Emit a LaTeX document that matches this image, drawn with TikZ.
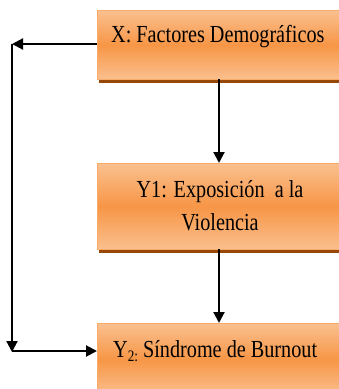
\documentclass[tikz,border=0pt]{standalone}
\usepackage{fontspec}
\setmainfont{Liberation Serif}[FakeStretch=0.825]
\usetikzlibrary{arrows.meta}
\definecolor{lightor}{RGB}{250,192,143}
\definecolor{darkor}{RGB}{247,150,70}
\definecolor{edgeor}{RGB}{248,170,105}
\definecolor{shadowbr}{RGB}{151,71,6}
\tikzset{
  box/.style={draw=edgeor, line width=1pt, top color=lightor, bottom color=lightor, middle color=darkor,
    anchor=north west, inner sep=0pt},
  shd/.style={fill=shadowbr},
  lbl/.style={inner sep=0pt, font=\fontsize{24.5}{33}\selectfont},
  arr/.style={line width=2pt, -{Triangle[length=11pt,width=11pt]}}
}
\begin{document}
\begin{tikzpicture}[x=1pt,y=-1pt]
\useasboundingbox (0,0) rectangle (339,389);
\fill[shd] (99,13) rectangle (345,83);
\fill[shd] (99,166) rectangle (345,253);
\fill[shd] (99,326) rectangle (345,400);
\node[box, minimum width=244pt, minimum height=69pt] (b1) at (97,10) {};
\node[box, minimum width=244pt, minimum height=86pt] (b2) at (97,163) {};
\node[box, minimum width=244pt, minimum height=72pt] (b3) at (97,323) {};
\node[lbl, anchor=base west] (t1) at (111,42) {X: Factores Demográficos};
\node[lbl, anchor=base] (t2a) at (220,197) {Y1: Exposición\ \ a la};
\node[lbl, anchor=base] (t2b) at (220,230) {Violencia};
\node[lbl, anchor=base west] (t3) at (113,357) {Y\raisebox{-4pt}{\fontsize{16}{16}\selectfont 2:} Síndrome de Burnout};
\coordinate (c1) at (12,44);
\coordinate (c2) at (12,352);
\coordinate (c3) at (12,351);
\draw[arr] (b1.west |- c1) -- (c1);
\draw[arr] (c1) -- (c2);
\draw[arr] (c3) -- (b3.west |- c3);
\draw[arr] (219,79) -- (b2.north -| 219,0);
\draw[arr] (219,249) -- (b3.north -| 219,0);
\end{tikzpicture}
\end{document}
